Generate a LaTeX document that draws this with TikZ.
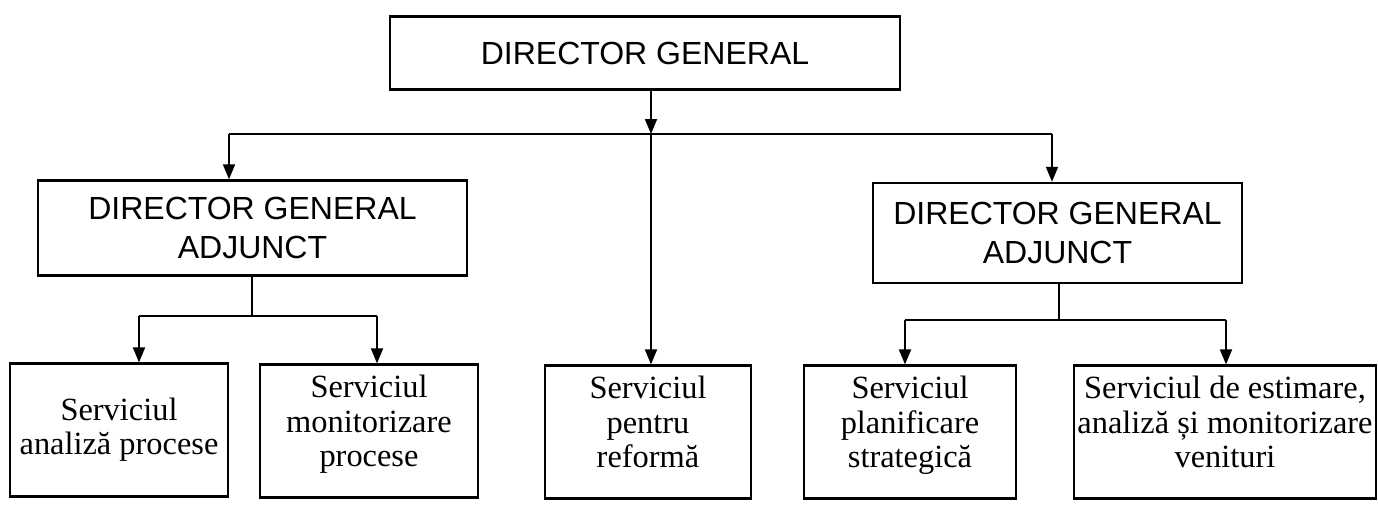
\documentclass[tikz,border=0pt]{standalone}
\usepackage{fontspec}
\setmainfont{Liberation Serif}
\newfontfamily\arialfont{Liberation Sans}
\usetikzlibrary{arrows.meta}

\tikzset{
  head/.style={draw, line width=1.2pt, align=center, inner sep=0pt,
    font=\arialfont\fontsize{16}{19.5}\selectfont},
  serv/.style={draw, line width=1.1pt, align=center, inner sep=0pt,
    minimum height=66.5pt, font=\fontsize{16.2}{17.2}\selectfont},
  servhigh/.style={serv, text depth=10pt},
  link/.style={line width=0.9pt},
  arr/.style={link, -{Triangle[length=7.5pt, width=6pt]}}
}

\begin{document}
\begin{tikzpicture}[x=0.5pt, y=-0.5pt]

\useasboundingbox (0,0) rectangle (1378,509);

\node [head, minimum width=255pt, minimum height=36.5pt] (DG) at (645,53) {DIRECTOR GENERAL};
\node [head, minimum width=214.5pt, minimum height=47.5pt] (DGA1) at (252.5,228) {DIRECTOR GENERAL\\ADJUNCT};
\node [head, minimum width=184.5pt, minimum height=50pt] (DGA2) at (1057.5,233) {DIRECTOR GENERAL\\ADJUNCT};

\node [serv, minimum width=109pt] (S1) at (119,430) {Serviciul\\analiză procese};
\node [servhigh, minimum width=109pt] (S2) at (369,431) {Serviciul\\monitorizare\\procese};
\node [servhigh, minimum width=103pt] (S3) at (648,432) {Serviciul\\pentru\\reformă};
\node [servhigh, minimum width=106pt] (S4) at (910,432) {Serviciul\\planificare\\strategică};
\node [servhigh, minimum width=151pt] (S5) at (1225,432) {Serviciul de estimare,\\analiză și monitorizare\\venituri};

\coordinate (H) at (651,134);
\coordinate (HL) at (229,134);
\coordinate (HR) at (1052,134);

\coordinate (L) at (252,316);
\coordinate (L1) at (139,316);
\coordinate (L2) at (377,316);

\coordinate (R) at (1059,320);
\coordinate (R1) at (905,320);
\coordinate (R2) at (1226,320);

\draw [arr] (H |- DG.south) -- (H);
\draw [link] (HL) -- (HR);
\draw [arr] (HL) -- (HL |- DGA1.north);
\draw [arr] (HR) -- (HR |- DGA2.north);
\draw [arr] (H) -- (H |- S3.north);

\draw [link] (L |- DGA1.south) -- (L);
\draw [link] (L1) -- (L2);
\draw [arr] (L1) -- (L1 |- S1.north);
\draw [arr] (L2) -- (L2 |- S2.north);

\draw [link] (R |- DGA2.south) -- (R);
\draw [link] (R1) -- (R2);
\draw [arr] (R1) -- (R1 |- S4.north);
\draw [arr] (R2) -- (R2 |- S5.north);

\end{tikzpicture}
\end{document}
